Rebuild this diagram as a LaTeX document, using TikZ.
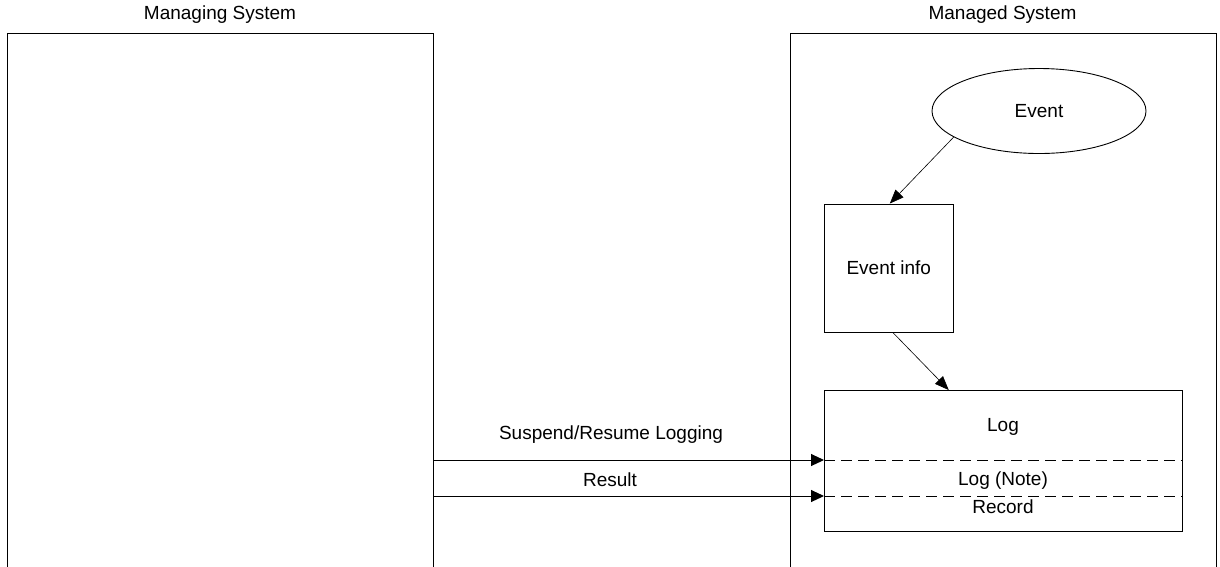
\documentclass[tikz,border=0pt]{standalone}
\usepackage{fontspec}
\setmainfont{Liberation Sans}
\usetikzlibrary{arrows.meta,shapes.geometric,calc}
\begin{document}
\begin{tikzpicture}[x=1pt,y=-1pt,
  every node/.style={font=\fontsize{19}{23}\selectfont, inner sep=0pt},
  sysbox/.style={draw, line width=1pt, rectangle, anchor=north west,
    minimum width=426pt, minimum height=600pt},
  box/.style={draw, line width=0.9pt, rectangle},
  msg/.style={line width=1pt, -{Triangle[length=13pt,width=12pt]}},
  flow/.style={line width=0.6pt, -{Triangle[length=14pt,width=11pt]}},
  sep/.style={line width=1pt, dash pattern=on 11pt off 6pt}]
  \useasboundingbox (0,0) rectangle (1220,566);
  \clip (0,0) rectangle (1220,566);

  % the two systems (open at the bottom)
  \node[sysbox] (mgr) at (7,33) {};
  \node[sysbox] (mgd) at (790,33) {};
  \node (mgrT) at (220,15) {Managing System};
  \node (mgdT) at (1002.5,15) {Managed System};

  % inside the managed system
  \node[ellipse, draw, line width=0.9pt, minimum width=214pt, minimum height=85pt] (ev) at (1039,111) {Event};
  \node[box, minimum width=129pt, minimum height=128pt] (info) at (888.8,268) {Event info};
  \node[box, anchor=north west, minimum width=357.5pt, minimum height=141pt] (log) at (824,390) {};
  \node (logT) at (1003,427) {Log};
  \node (noteT) at (1003,481) {Log (Note)};
  \node (recT) at (1003,507) {Record};

  % section separators of the log
  \coordinate (d1) at (824,460);
  \coordinate (d2) at (824,496);
  \draw[sep] (d1) -- (log.east |- d1);
  \draw[sep] (d2) -- (log.east |- d2);

  % flows
  \draw[flow] (ev.197) -- ([xshift=1pt]info.north);
  \draw[flow] ([xshift=4pt]info.south) -- ($(log.north west)!0.348!(log.north east)$);

  % messages between the systems
  \draw[msg] (mgr.east |- d1) -- (d1);
  \draw[msg] (mgr.east |- d2) -- (d2);
  \node (susT) at (611,435) {Suspend/Resume Logging};
  \node (resT) at (610,480) {Result};
\end{tikzpicture}
\end{document}
